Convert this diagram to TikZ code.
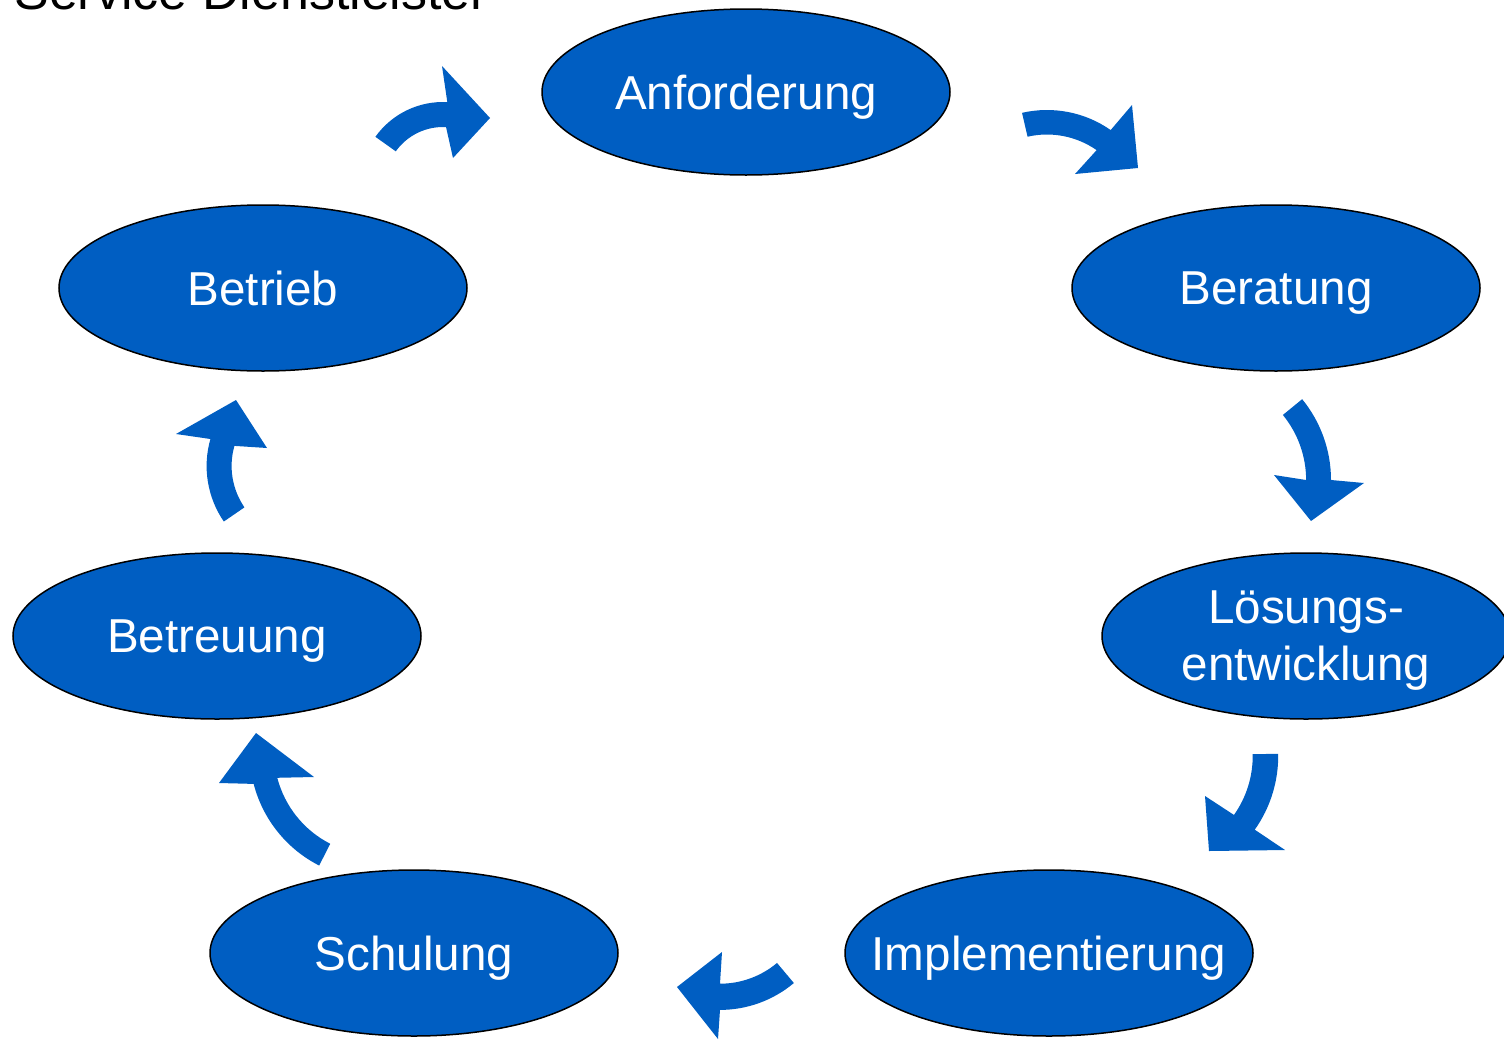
\documentclass[tikz,border=0pt]{standalone}
\usepackage{fontspec}
\setmainfont{Liberation Sans}
\usetikzlibrary{shapes.geometric}
\definecolor{cblue}{RGB}{0,94,194}
\tikzset{
  phase/.style={ellipse, draw=black, line width=0.75pt, fill=cblue, text=white,
    minimum width=204pt, minimum height=83pt, inner sep=0pt, align=center,
    text depth=0pt, font=\fontsize{23.8pt}{28.5pt}\selectfont},
  blockarrow/.style={fill=cblue, draw=none}
}
\begin{document}
\begin{tikzpicture}[x=0.5pt, y=-0.5pt]
\useasboundingbox (0,0) rectangle (1504,1039);
\clip (0,0) rectangle (1504,1039);
\node[anchor=base west, font=\fontsize{26pt}{30pt}\selectfont, inner sep=0pt] (title) at (14,9) {Service Dienstleister};
\node[phase] (anf) at (746,92) {Anforderung};
\node[phase] (ber) at (1276,288) {Beratung};
\node[phase] (loe) at (1306,636) {Lösungs-\\entwicklung};
\node[phase] (imp) at (1049,953) {\makebox[0pt]{Implementierung}};
\node[phase] (sch) at (414,953) {Schulung};
\node[phase] (btr) at (217,636) {Betreuung};
\node[phase] (bet) at (263,288) {Betrieb};
% curved block arrows
\fill[blockarrow] (375.4,136.8) arc[start angle=215.5, end angle=273, radius=83] -- (442,66) -- (490,118) -- (453,158) -- (446.04,127.08) arc[start angle=273, end angle=215.5, radius=58] -- cycle;
\fill[blockarrow] (1022.03,112.84) arc[start angle=257, end angle=305, radius=111] -- (1132,105) -- (1138,168) -- (1075,174) -- (1096.61,150.14) arc[start angle=305, end angle=257, radius=86.5] -- cycle;
\fill[blockarrow] (1302.14,399.18) arc[start angle=320.7, end angle=360, radius=127.6] -- (1364,483) -- (1311,521) -- (1274,475) -- (1306.1,480) arc[start angle=360, end angle=320.7, radius=102.7] -- cycle;
\fill[blockarrow] (1278.18,753.77) arc[start angle=-1, end angle=35.3, radius=127.5] -- (1285,850) -- (1209,851) -- (1205,796) -- (1233.95,814.94) arc[start angle=35.3, end angle=-1, radius=102] -- cycle;
\fill[blockarrow] (793.86,983.02) arc[start angle=50, end angle=90, radius=114.9] -- (718,1039) -- (677,987) -- (722,952) -- (720,983.7) arc[start angle=90, end angle=50, radius=88.7] -- cycle;
\fill[blockarrow] (330.24,843.77) arc[start angle=117, end angle=165.5, radius=103] -- (314,777) -- (256,733) -- (219,783) -- (253.66,783.9) arc[start angle=165.5, end angle=117, radius=127.4] -- cycle;
\fill[blockarrow] (244.44,507.35) arc[start angle=145.5, end angle=196, radius=73] -- (267,448) -- (236,400) -- (176,434) -- (210.4,438.99) arc[start angle=196, end angle=145.5, radius=98] -- cycle;
\end{tikzpicture}
\end{document}
